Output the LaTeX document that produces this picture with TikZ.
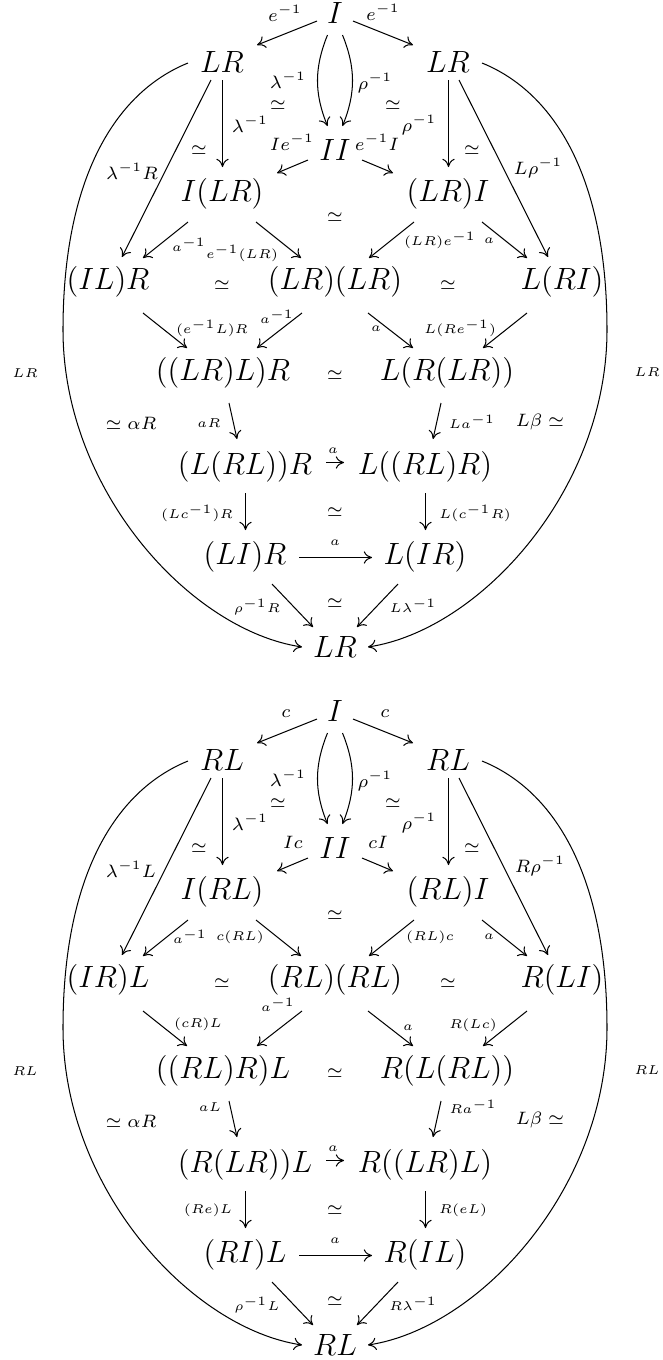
\documentclass[tikz,border=0pt]{standalone}
\usetikzlibrary{arrows.meta}
\begin{document}
\begin{tikzpicture}[x=0.39pt,y=-0.39pt,
  obj/.style={inner sep=0pt,font=\large},
  lab/.style={inner sep=0pt},
  ar/.style={-{Computer Modern Rightarrow[length=3.2pt,width=4.8pt]},line width=0.4pt},
]
\useasboundingbox (0,0) rectangle (662,1360);
% ================= diagram 1 =================
\node[obj] (aI) at (335,13) {$I$};
\node[obj] (aLRl) at (222,62) {$LR$};
\node[obj] (aLRr) at (448,62) {$LR$};
\node[obj] (aII) at (335,150) {$II$};
\node[obj] (aILR) at (222,194) {$I(LR)$};
\node[obj] (aLRI) at (448,194) {$(LR)I$};
\node[obj] (aILRb) at (108,282) {$(IL)R$};
\node[obj] (aLRLR) at (335,282) {$(LR)(LR)$};
\node[obj] (aLRIb) at (562,282) {$L(RI)$};
\node[obj] (aP) at (223,373) {$((LR)L)R$};
\node[obj] (aQ) at (447,373) {$L(R(LR))$};
\node[obj] (aS) at (245,467) {$(L(RL))R$};
\node[obj] (aT) at (425,467) {$L((RL)R)$};
\node[obj] (aU) at (245,557) {$(LI)R$};
\node[obj] (aV) at (425,557) {$L(IR)$};
\node[obj] (aB) at (335,647) {$LR$};
\coordinate (alm) at (63,330);
\coordinate (arm) at (607,330);

\draw[ar] ([shift={(-18,8)}]aI.center) -- ([shift={(35,-17)}]aLRl.center);
\draw[ar] ([shift={(18,8)}]aI.center) -- ([shift={(-35,-17)}]aLRr.center);
\draw[ar] ([shift={(-7.5,22)}]aI.center) to[bend right=22] ([shift={(-7.5,-24)}]aII.center);
\draw[ar] ([shift={(7.5,22)}]aI.center) to[bend left=22] ([shift={(7.5,-24)}]aII.center);
\draw[ar] ([shift={(0.5,18)}]aLRl.center) -- ([shift={(0.5,-27)}]aILR.center);
\draw[ar] ([shift={(0.5,18)}]aLRr.center) -- ([shift={(0.5,-27)}]aLRI.center);
\draw[ar] ([shift={(-11,18)}]aLRl.center) -- ([shift={(14,-25)}]aILRb.center);
\draw[ar] ([shift={(11,18)}]aLRr.center) -- ([shift={(-14,-25)}]aLRIb.center);
\draw[ar] ([shift={(-27,10)}]aII.center) -- ([shift={(55,-21)}]aILR.center);
\draw[ar] ([shift={(27,10)}]aII.center) -- ([shift={(-55,-21)}]aLRI.center);
\draw[ar] ([shift={(-34,28)}]aILR.center) -- ([shift={(35,-24)}]aILRb.center);
\draw[ar] ([shift={(34,28)}]aILR.center) -- ([shift={(-34,-24)}]aLRLR.center);
\draw[ar] ([shift={(-34,28)}]aLRI.center) -- ([shift={(34,-24)}]aLRLR.center);
\draw[ar] ([shift={(34,28)}]aLRI.center) -- ([shift={(-35,-24)}]aLRIb.center);
\draw[ar] ([shift={(35,31)}]aILRb.center) -- ([shift={(-36,-25)}]aP.center);
\draw[ar] ([shift={(-33,31)}]aLRLR.center) -- ([shift={(34,-25)}]aP.center);
\draw[ar] ([shift={(33,31)}]aLRLR.center) -- ([shift={(-34,-25)}]aQ.center);
\draw[ar] ([shift={(-35,31)}]aLRIb.center) -- ([shift={(36,-25)}]aQ.center);
\draw[ar] ([shift={(6,30)}]aP.center) -- ([shift={(-8,-28)}]aS.center);
\draw[ar] ([shift={(-6,30)}]aQ.center) -- ([shift={(8,-28)}]aT.center);
\draw[ar] ([shift={(81,-4.5)}]aS.center) -- ([shift={(-81,-4.5)}]aT.center);
\draw[ar] ([shift={(0.5,26)}]aS.center) -- ([shift={(0.5,-27)}]aU.center);
\draw[ar] ([shift={(0.5,26)}]aT.center) -- ([shift={(0.5,-27)}]aV.center);
\draw[ar] ([shift={(54,0.5)}]aU.center) -- ([shift={(-53,0.5)}]aV.center);
\draw[ar] ([shift={(27,27)}]aU.center) -- ([shift={(-22,-20)}]aB.center);
\draw[ar] ([shift={(-27,27)}]aV.center) -- ([shift={(22,-20)}]aB.center);
\draw[ar] ([shift={(-34,1)}]aLRl.center) .. controls (114,93) and (63,180) .. (alm)
  .. controls (63,490) and (190,630) .. ([shift={(-33,0)}]aB.center);
\draw[ar] ([shift={(34,1)}]aLRr.center) .. controls (556,93) and (607,180) .. (arm)
  .. controls (607,490) and (480,630) .. ([shift={(33,0)}]aB.center);

\node[lab] (al1) at (285,13) {$\scriptstyle e^{-1}$};
\node[lab] (al2) at (383,12) {$\scriptstyle e^{-1}$};
\node[lab] (al3) at (288,80) {$\scriptstyle \lambda^{-1}$};
\node[lab] (al4) at (278,105) {$\scriptstyle \simeq$};
\node[lab] (al5) at (375,83) {$\scriptstyle \rho^{-1}$};
\node[lab] (al6) at (393,105) {$\scriptstyle \simeq$};
\node[lab] (al7) at (250,124) {$\scriptstyle \lambda^{-1}$};
\node[lab] (al8) at (419,125) {$\scriptstyle \rho^{-1}$};
\node[lab] (al9) at (292,142) {$\scriptstyle Ie^{-1}$};
\node[lab] (al10) at (377,142) {$\scriptstyle e^{-1}I$};
\node[lab] (al11) at (199,150) {$\scriptstyle \simeq$};
\node[lab] (al12) at (472,150) {$\scriptstyle \simeq$};
\node[lab] (al13) at (132,171) {$\scriptstyle \lambda^{-1}R$};
\node[lab] (al14) at (538,168) {$\scriptstyle L\rho^{-1}$};
\node[lab] (al15) at (335,217) {$\scriptstyle \simeq$};
\node[lab] (al16) at (189,245) {$\scriptscriptstyle a^{-1}$};
\node[lab] (al17) at (242,253) {$\scriptscriptstyle e^{-1}(LR)$};
\node[lab] (al18) at (440,240) {$\scriptscriptstyle (LR)e^{-1}$};
\node[lab] (al19) at (489,241) {$\scriptscriptstyle a$};
\node[lab] (al20) at (222,285) {$\scriptstyle \simeq$};
\node[lab] (al21) at (448,285) {$\scriptstyle \simeq$};
\node[lab] (al22) at (212,328) {$\scriptscriptstyle (e^{-1}L)R$};
\node[lab] (al23) at (277,317) {$\scriptscriptstyle a^{-1}$};
\node[lab] (al24) at (376,329) {$\scriptscriptstyle a$};
\node[lab] (al25) at (460,328) {$\scriptscriptstyle L(Re^{-1})$};
\node[lab] (al26) at (25,373) {$\scriptscriptstyle LR$};
\node[lab] (al27) at (647,372) {$\scriptscriptstyle LR$};
\node[lab] (al28) at (335,375) {$\scriptstyle \simeq$};
\node[lab] (al29) at (131,423) {$\scriptstyle \simeq\;\alpha R$};
\node[lab] (al30) at (209,423) {$\scriptscriptstyle aR$};
\node[lab] (al31) at (472,422) {$\scriptscriptstyle La^{-1}$};
\node[lab] (al32) at (540,422) {$\scriptstyle L\beta\;\simeq$};
\node[lab] (al33) at (333,451) {$\scriptscriptstyle a$};
\node[lab] (al34) at (197,513) {$\scriptscriptstyle (Lc^{-1})R$};
\node[lab] (al35) at (335,512) {$\scriptstyle \simeq$};
\node[lab] (al36) at (475,513) {$\scriptscriptstyle L(c^{-1}R)$};
\node[lab] (al37) at (335,543) {$\scriptscriptstyle a$};
\node[lab] (al38) at (257,607) {$\scriptscriptstyle \rho^{-1}R$};
\node[lab] (al39) at (335,603) {$\scriptstyle \simeq$};
\node[lab] (al40) at (413,606) {$\scriptscriptstyle L\lambda^{-1}$};

% ================= diagram 2 =================
\node[obj] (bI) at (335,711) {$I$};
\node[obj] (bRLl) at (222,760) {$RL$};
\node[obj] (bRLr) at (448,760) {$RL$};
\node[obj] (bII) at (335,848) {$II$};
\node[obj] (bIRL) at (222,892) {$I(RL)$};
\node[obj] (bRLI) at (448,892) {$(RL)I$};
\node[obj] (bIRLb) at (108,980) {$(IR)L$};
\node[obj] (bRLRL) at (335,980) {$(RL)(RL)$};
\node[obj] (bRLIb) at (562,980) {$R(LI)$};
\node[obj] (bP) at (223,1071) {$((RL)R)L$};
\node[obj] (bQ) at (447,1071) {$R(L(RL))$};
\node[obj] (bS) at (245,1165) {$(R(LR))L$};
\node[obj] (bT) at (425,1165) {$R((LR)L)$};
\node[obj] (bU) at (245,1255) {$(RI)L$};
\node[obj] (bV) at (425,1255) {$R(IL)$};
\node[obj] (bB) at (335,1345) {$RL$};
\coordinate (blm) at (63,1028);
\coordinate (brm) at (607,1028);

\draw[ar] ([shift={(-18,8)}]bI.center) -- ([shift={(35,-17)}]bRLl.center);
\draw[ar] ([shift={(18,8)}]bI.center) -- ([shift={(-35,-17)}]bRLr.center);
\draw[ar] ([shift={(-7.5,22)}]bI.center) to[bend right=22] ([shift={(-7.5,-24)}]bII.center);
\draw[ar] ([shift={(7.5,22)}]bI.center) to[bend left=22] ([shift={(7.5,-24)}]bII.center);
\draw[ar] ([shift={(0.5,18)}]bRLl.center) -- ([shift={(0.5,-27)}]bIRL.center);
\draw[ar] ([shift={(0.5,18)}]bRLr.center) -- ([shift={(0.5,-27)}]bRLI.center);
\draw[ar] ([shift={(-11,18)}]bRLl.center) -- ([shift={(14,-25)}]bIRLb.center);
\draw[ar] ([shift={(11,18)}]bRLr.center) -- ([shift={(-14,-25)}]bRLIb.center);
\draw[ar] ([shift={(-27,10)}]bII.center) -- ([shift={(55,-21)}]bIRL.center);
\draw[ar] ([shift={(27,10)}]bII.center) -- ([shift={(-55,-21)}]bRLI.center);
\draw[ar] ([shift={(-34,28)}]bIRL.center) -- ([shift={(35,-24)}]bIRLb.center);
\draw[ar] ([shift={(34,28)}]bIRL.center) -- ([shift={(-34,-24)}]bRLRL.center);
\draw[ar] ([shift={(-34,28)}]bRLI.center) -- ([shift={(34,-24)}]bRLRL.center);
\draw[ar] ([shift={(34,28)}]bRLI.center) -- ([shift={(-35,-24)}]bRLIb.center);
\draw[ar] ([shift={(35,31)}]bIRLb.center) -- ([shift={(-36,-25)}]bP.center);
\draw[ar] ([shift={(-33,31)}]bRLRL.center) -- ([shift={(34,-25)}]bP.center);
\draw[ar] ([shift={(33,31)}]bRLRL.center) -- ([shift={(-34,-25)}]bQ.center);
\draw[ar] ([shift={(-35,31)}]bRLIb.center) -- ([shift={(36,-25)}]bQ.center);
\draw[ar] ([shift={(6,30)}]bP.center) -- ([shift={(-8,-28)}]bS.center);
\draw[ar] ([shift={(-6,30)}]bQ.center) -- ([shift={(8,-28)}]bT.center);
\draw[ar] ([shift={(81,-4.5)}]bS.center) -- ([shift={(-81,-4.5)}]bT.center);
\draw[ar] ([shift={(0.5,26)}]bS.center) -- ([shift={(0.5,-27)}]bU.center);
\draw[ar] ([shift={(0.5,26)}]bT.center) -- ([shift={(0.5,-27)}]bV.center);
\draw[ar] ([shift={(54,0.5)}]bU.center) -- ([shift={(-53,0.5)}]bV.center);
\draw[ar] ([shift={(27,27)}]bU.center) -- ([shift={(-22,-20)}]bB.center);
\draw[ar] ([shift={(-27,27)}]bV.center) -- ([shift={(22,-20)}]bB.center);
\draw[ar] ([shift={(-34,1)}]bRLl.center) .. controls (114,791) and (63,878) .. (blm)
  .. controls (63,1188) and (190,1328) .. ([shift={(-33,0)}]bB.center);
\draw[ar] ([shift={(34,1)}]bRLr.center) .. controls (556,791) and (607,878) .. (brm)
  .. controls (607,1188) and (480,1328) .. ([shift={(33,0)}]bB.center);

\node[lab] (bl1) at (286,714) {$\scriptstyle c$};
\node[lab] (bl2) at (385,714) {$\scriptstyle c$};
\node[lab] (bl3) at (288,778) {$\scriptstyle \lambda^{-1}$};
\node[lab] (bl4) at (278,803) {$\scriptstyle \simeq$};
\node[lab] (bl5) at (375,781) {$\scriptstyle \rho^{-1}$};
\node[lab] (bl6) at (393,803) {$\scriptstyle \simeq$};
\node[lab] (bl7) at (250,822) {$\scriptstyle \lambda^{-1}$};
\node[lab] (bl8) at (419,823) {$\scriptstyle \rho^{-1}$};
\node[lab] (bl9) at (293,842) {$\scriptstyle Ic$};
\node[lab] (bl10) at (378,842) {$\scriptstyle cI$};
\node[lab] (bl11) at (199,848) {$\scriptstyle \simeq$};
\node[lab] (bl12) at (472,848) {$\scriptstyle \simeq$};
\node[lab] (bl13) at (131,869) {$\scriptstyle \lambda^{-1}L$};
\node[lab] (bl14) at (540,866) {$\scriptstyle R\rho^{-1}$};
\node[lab] (bl15) at (335,915) {$\scriptstyle \simeq$};
\node[lab] (bl16) at (190,937) {$\scriptscriptstyle a^{-1}$};
\node[lab] (bl17) at (240,937) {$\scriptscriptstyle c(RL)$};
\node[lab] (bl18) at (430,937) {$\scriptscriptstyle (RL)c$};
\node[lab] (bl19) at (489,937) {$\scriptscriptstyle a$};
\node[lab] (bl20) at (222,983) {$\scriptstyle \simeq$};
\node[lab] (bl21) at (448,983) {$\scriptstyle \simeq$};
\node[lab] (bl22) at (198,1024) {$\scriptscriptstyle (cR)L$};
\node[lab] (bl23) at (278,1005) {$\scriptscriptstyle a^{-1}$};
\node[lab] (bl24) at (408,1028) {$\scriptscriptstyle a$};
\node[lab] (bl25) at (473,1025) {$\scriptscriptstyle R(Lc)$};
\node[lab] (bl26) at (25,1071) {$\scriptscriptstyle RL$};
\node[lab] (bl27) at (647,1070) {$\scriptscriptstyle RL$};
\node[lab] (bl28) at (335,1073) {$\scriptstyle \simeq$};
\node[lab] (bl29) at (131,1121) {$\scriptstyle \simeq\;\alpha R$};
\node[lab] (bl30) at (210,1107) {$\scriptscriptstyle aL$};
\node[lab] (bl31) at (473,1107) {$\scriptscriptstyle Ra^{-1}$};
\node[lab] (bl32) at (540,1120) {$\scriptstyle L\beta\;\simeq$};
\node[lab] (bl33) at (333,1149) {$\scriptscriptstyle a$};
\node[lab] (bl34) at (208,1210) {$\scriptscriptstyle (Re)L$};
\node[lab] (bl35) at (335,1210) {$\scriptstyle \simeq$};
\node[lab] (bl36) at (463,1210) {$\scriptscriptstyle R(eL)$};
\node[lab] (bl37) at (335,1241) {$\scriptscriptstyle a$};
\node[lab] (bl38) at (257,1305) {$\scriptscriptstyle \rho^{-1}L$};
\node[lab] (bl39) at (335,1301) {$\scriptstyle \simeq$};
\node[lab] (bl40) at (413,1304) {$\scriptscriptstyle R\lambda^{-1}$};
\end{tikzpicture}
\end{document}
